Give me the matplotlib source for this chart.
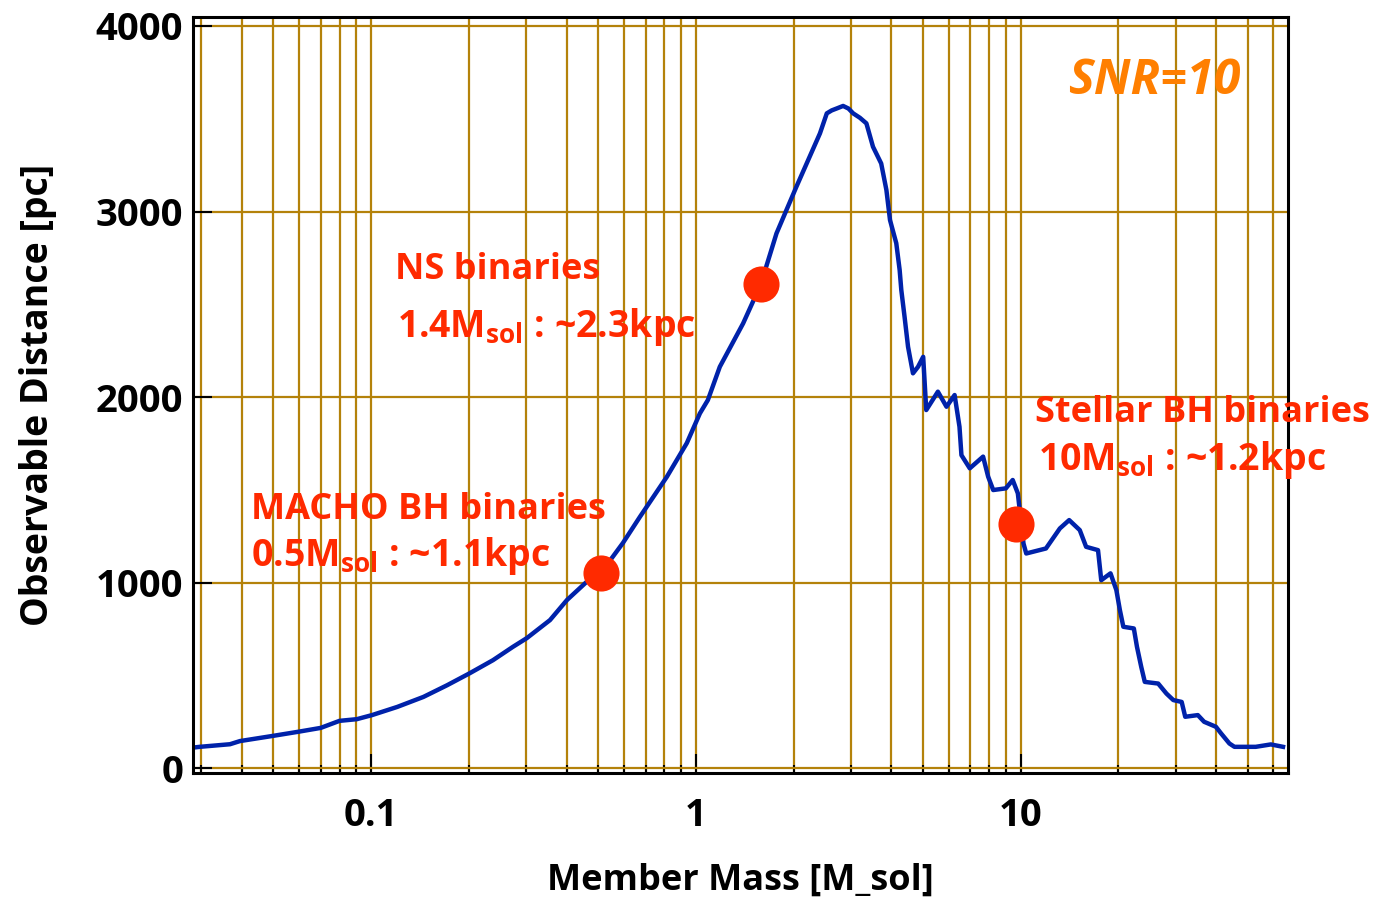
import numpy as np
import matplotlib.pyplot as plt
from matplotlib.ticker import LogLocator, NullFormatter, FixedLocator

plt.rcParams['font.family'] = ['Open Sans', 'DejaVu Sans']
plt.rcParams['mathtext.fontset'] = 'custom'
plt.rcParams['mathtext.bf'] = 'Open Sans:bold'
plt.rcParams['mathtext.rm'] = 'Open Sans:bold'

# member mass [M_sol] and observable distance [pc]
mass = [0.0287, 0.0297, 0.0368, 0.0395, 0.0499, 0.0596, 0.0700, 0.080, 0.0904,
        0.1007, 0.1204, 0.145, 0.1715, 0.2015, 0.2374, 0.2735, 0.3018, 0.3556,
        0.401, 0.461, 0.509, 0.596, 0.673, 0.814, 0.938, 1.029, 1.089, 1.185,
        1.398, 1.584, 1.771, 2.04, 2.24, 2.41, 2.53, 2.62, 2.72, 2.84, 2.95,
        3.05, 3.2, 3.35, 3.51, 3.72, 3.86, 3.96, 4.14, 4.24, 4.29, 4.39, 4.5,
        4.66, 4.83, 5.01, 5.12, 5.56, 5.91, 6.26, 6.48, 6.57, 6.97, 7.66, 7.94,
        8.23, 9.0, 9.45, 9.8, 10.2, 10.4, 11.96, 13.2, 14.1, 15.2, 15.9, 17.3,
        17.7, 18.9, 19.7, 20.2, 20.7, 22.3, 22.8, 23.5, 24.1, 26.5, 28.1, 29.5,
        31.3, 32.1, 35.1, 36.7, 39.9, 41.4, 43.9, 45.5, 49.9, 52.9, 58.9, 64.2]
distance = [112, 115, 129, 146, 174, 196, 217, 255, 264,
            286, 330, 384, 447, 512, 582, 654, 701, 798,
            906, 1004, 1050, 1213, 1355, 1570, 1752, 1912, 1984, 2163,
            2397, 2607, 2882, 3134, 3295, 3421, 3529, 3545, 3556, 3569, 3555,
            3529, 3505, 3475, 3349, 3259, 3116, 2954, 2829, 2685, 2577, 2433, 2271,
            2128, 2163, 2217, 1930, 2029, 1948, 2011, 1840, 1687, 1616, 1679, 1571,
            1499, 1508, 1553, 1481, 1211, 1157, 1184, 1292, 1337, 1283, 1193, 1175,
            1013, 1050, 960, 852, 762, 753, 654, 546, 465, 456, 402, 367,
            357, 277, 286, 250, 223, 187, 133, 115, 115, 115, 128, 115]

# highlighted sources
src_mass = [0.509, 1.584, 9.69]
src_dist = [1050, 2607, 1314]

fig = plt.figure(figsize=(13.98, 8.98), dpi=100)
ax = fig.add_axes([0.138, 0.139, 0.783, 0.842])

grid_col = '#B4820A'
ax.set_xscale('log')
ax.set_xlim(0.0283, 66.3)
ax.set_ylim(-27, 4048)

ax.xaxis.set_major_locator(FixedLocator([0.1, 1, 10]))
ax.xaxis.set_minor_locator(LogLocator(base=10, subs=np.arange(2, 10)))
ax.xaxis.set_minor_formatter(NullFormatter())
ax.set_xticklabels(['0.1', '1', '10'])
ax.set_yticks([0, 1000, 2000, 3000, 4000])

ax.grid(True, which='both', axis='x', color=grid_col, lw=1.6)
ax.grid(True, which='major', axis='y', color=grid_col, lw=1.6)
ax.set_axisbelow(True)

ax.tick_params(axis='both', which='major', direction='in', length=14, width=1.5,
               labelsize=27.5, top=False, right=False)
ax.tick_params(axis='x', which='major', pad=17)
ax.tick_params(axis='y', which='major', pad=7)
ax.tick_params(axis='x', which='minor', direction='in', length=6, width=1.5,
               top=False)
for lab in ax.get_xticklabels() + ax.get_yticklabels():
    lab.set_fontweight('bold')
for s in ax.spines.values():
    s.set_linewidth(2.2)

ax.plot(mass, distance, color='#0022AA', lw=3.2)
ax.plot(src_mass, src_dist, 'o', color='#FF2A00', ms=26, mec='none')

red = '#FF2A00'
kw = dict(color=red, fontweight='bold', va='center', ha='left')
ax.text(0.1186, 2685, 'NS binaries', fontsize=26, **kw)
ax.text(0.12, 2377, r'1.4M$_{\mathbf{sol}}$ : ~2.3kpc', fontsize=27, **kw)
ax.text(0.0427, 1391, 'MACHO BH binaries', fontsize=26, **kw)
ax.text(0.0427, 1143, r'0.5M$_{\mathbf{sol}}$ : ~1.1kpc', fontsize=27, **kw)
ax.text(11.04, 1914, 'Stellar BH binaries', fontsize=26, **kw)
ax.text(11.27, 1660, r'10M$_{\mathbf{sol}}$ : ~1.2kpc', fontsize=27, **kw)
ax.text(13.95, 3700, 'SNR=10', color='#FF7F00', fontsize=35, fontweight='bold',
        fontstyle='italic', va='center', ha='left')

ax.set_xlabel('Member Mass [M_sol]', fontsize=26, fontweight='bold', labelpad=20)
ax.set_ylabel('Observable Distance [pc]', fontsize=27, fontweight='bold', labelpad=28)

fig.savefig('out.png', dpi=100)
